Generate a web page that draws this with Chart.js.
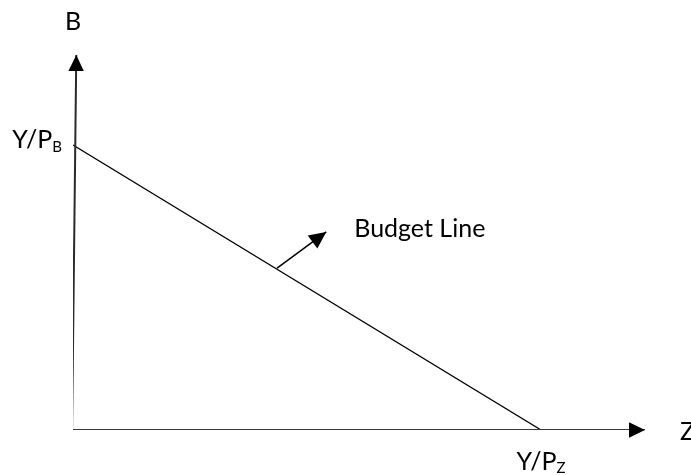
<!DOCTYPE html>
<html>
<head>
<meta charset="utf-8">
<script src="https://cdn.jsdelivr.net/npm/chart.js@4"></script>
<style>
    html, body { margin: 0; padding: 0; background: #ffffff; }
    #wrap { width: 691px; height: 475px; }
</style>
</head>
<body>
<div id="wrap"><canvas id="budgetChart" width="691" height="475"></canvas></div>
<script>

/* =====================================
   DATA
===================================== */

// axis lengths (units of good Z and good B)
const zAxisEnd = 12.22;
const bAxisEnd = 13.16;

// axis lines
const zAxisZ = [-0.1, 12.22];
const zAxisB = [0, 0];

const bAxisZ = [-0.02, 0.07];
const bAxisB = [0, 13.16];

// budget line: intercepts Y/P_Z = 10, Y/P_B = 10
const budgetZ = [0, 10];
const budgetB = [10, 0];

// pointer arrow to the budget line
const pointerZ = [4.36, 5.41];
const pointerB = [5.68, 6.95];

// labels
const labelAxisB = "B";
const labelAxisZ = "Z";
const labelBudget = "Budget Line";
const labelInterceptB = ["Y/P", "B"];
const labelInterceptZ = ["Y/P", "Z"];

/* =====================================
   HELPERS
===================================== */

function toPoints(xs, ys){

    return xs.map((x, i) => ({ x: x, y: ys[i] }));
}

const FONT = "Lato, 'Open Sans', sans-serif";
const MAIN_FONT = "25px " + FONT;
const SUB_FONT = "15px " + FONT;

/* =====================================
   ARROWS PLUGIN
===================================== */

const arrowPlugin = {

    id: "arrows",

    afterDatasetsDraw(chart){

        const ctx = chart.ctx;

        chart.data.datasets.forEach((ds, i) => {

            if(!ds.arrowSize){
                return;
            }

            const pts = chart.getDatasetMeta(i).data;
            const a = pts[pts.length - 2];
            const b = pts[pts.length - 1];

            const ang = Math.atan2(b.y - a.y, b.x - a.x);
            const len = ds.arrowSize;
            const half = ds.arrowSize * 0.48;

            const bx = b.x - Math.cos(ang) * len;
            const by = b.y - Math.sin(ang) * len;

            ctx.save();
            ctx.fillStyle = "#000000";
            ctx.beginPath();
            ctx.moveTo(b.x, b.y);
            ctx.lineTo(bx + Math.sin(ang) * half, by - Math.cos(ang) * half);
            ctx.lineTo(bx - Math.sin(ang) * half, by + Math.cos(ang) * half);
            ctx.closePath();
            ctx.fill();
            ctx.restore();
        });
    }
};

/* =====================================
   LABELS PLUGIN
===================================== */

const labelPlugin = {

    id: "labels",

    afterDraw(chart){

        const ctx = chart.ctx;
        const xs = chart.scales.x;
        const ys = chart.scales.y;

        ctx.save();
        ctx.fillStyle = "#000000";
        ctx.textBaseline = "alphabetic";
        ctx.font = MAIN_FONT;

        // B at top of vertical axis
        ctx.textAlign = "center";
        ctx.fillText(
            labelAxisB,
            xs.getPixelForValue(0),
            ys.getPixelForValue(bAxisEnd) - 25
        );

        // Z at end of horizontal axis
        ctx.textAlign = "left";
        ctx.fillText(
            labelAxisZ,
            xs.getPixelForValue(zAxisEnd) + 35,
            ys.getPixelForValue(0) + 10
        );

        // Budget Line text
        ctx.fillText(
            labelBudget,
            xs.getPixelForValue(pointerZ[1]) + 28,
            ys.getPixelForValue(pointerB[1]) + 5
        );

        // Y/P_B
        const bx = xs.getPixelForValue(0) - 11;
        const by = ys.getPixelForValue(budgetB[0]) + 3;
        ctx.font = SUB_FONT;
        const subW = ctx.measureText(labelInterceptB[1]).width;
        ctx.textAlign = "right";
        ctx.fillText(labelInterceptB[1], bx, by + 4);
        ctx.font = MAIN_FONT;
        ctx.fillText(labelInterceptB[0], bx - subW, by);

        // Y/P_Z
        const zx = xs.getPixelForValue(budgetZ[1]);
        const zy = ys.getPixelForValue(0) + 40;
        ctx.font = MAIN_FONT;
        const mainW = ctx.measureText(labelInterceptZ[0]).width;
        ctx.font = SUB_FONT;
        const subZW = ctx.measureText(labelInterceptZ[1]).width;
        const startX = zx - (mainW + subZW) / 2;
        ctx.textAlign = "left";
        ctx.fillText(labelInterceptZ[1], startX + mainW, zy + 3);
        ctx.font = MAIN_FONT;
        ctx.fillText(labelInterceptZ[0], startX, zy);

        ctx.restore();
    }
};

/* =====================================
   CHART
===================================== */

const ctx =
document
.getElementById("budgetChart")
.getContext("2d");

const budgetChart =
new Chart(ctx, {

    type: "scatter",

    data: {

        datasets: [

            {
                label: "Z axis",
                data: toPoints(zAxisZ, zAxisB),
                showLine: true,
                borderColor: "#3a3a3a",
                borderWidth: 2,
                pointRadius: 0,
                arrowSize: 16
            },

            {
                label: "B axis",
                data: toPoints(bAxisZ, bAxisB),
                showLine: true,
                borderColor: "#2a2a2a",
                borderWidth: 2,
                pointRadius: 0,
                arrowSize: 16
            },

            {
                label: "Budget Line",
                data: toPoints(budgetZ, budgetB),
                showLine: true,
                borderColor: "#000000",
                borderWidth: 1.3,
                pointRadius: 0
            },

            {
                label: "Pointer",
                data: toPoints(pointerZ, pointerB),
                showLine: true,
                borderColor: "#000000",
                borderWidth: 1.5,
                pointRadius: 0,
                arrowSize: 17
            }
        ]
    },

    options: {

        responsive: false,

        animation: false,

        layout: {
            padding: { left: 73, right: 46, top: 55, bottom: 45 }
        },

        plugins: {
            legend: { display: false },
            tooltip: { enabled: false }
        },

        scales: {

            x: {
                type: "linear",
                display: false,
                min: 0,
                max: zAxisEnd
            },

            y: {
                type: "linear",
                display: false,
                min: 0,
                max: bAxisEnd
            }
        }
    },

    plugins: [arrowPlugin, labelPlugin]
});

</script>
</body>
</html>
